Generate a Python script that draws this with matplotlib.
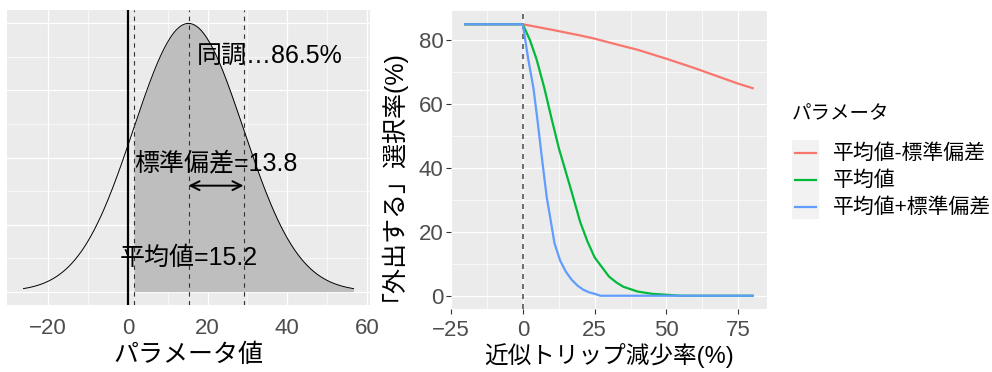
import numpy as np
import matplotlib
matplotlib.use("Agg")
import matplotlib.pyplot as plt
from matplotlib.lines import Line2D
from matplotlib.patches import Rectangle

plt.rcParams['font.family'] = ['Liberation Sans', 'Noto Sans CJK JP', 'DejaVu Sans']

# パラメータ分布
mu = 15.2
sd = 13.8
shade_from = mu - sd
share_pct = 86.5

# 近似トリップ減少率 vs 「外出する」選択率
red_x = [-20, 0, 10, 20, 25, 30, 40, 50, 60, 70, 75, 80]
red_y = [85, 85, 83.3, 81.5, 80.5, 79.3, 77.0, 74.2, 71.2, 68.0, 66.4, 65.0]
green_x = [-20, 0, 2.5, 4.8, 7.5, 10, 12.6, 14.4, 17, 20, 22.5, 25, 27.5, 30,
           32.5, 35, 40, 45, 50, 55, 80]
green_y = [85, 85, 80, 74, 65, 55.5, 46, 40.5, 32.5, 23, 17, 12, 9, 6,
           4.2, 2.8, 1.3, 0.6, 0.3, 0, 0]
blue_x = [-20, 0, 1.9, 3.7, 5.1, 6.8, 8.3, 10, 11, 13, 15, 17, 19, 21, 23, 25, 27, 80]
blue_y = [85, 85, 74, 65, 55, 42, 31, 22, 16.5, 11, 7.5, 5, 3.2, 1.9, 1.1, 0.6, 0, 0]

series = [("平均値-標準偏差", red_x, red_y, "#F8766D"),
          ("平均値", green_x, green_y, "#00BA38"),
          ("平均値+標準偏差", blue_x, blue_y, "#619CFF")]

PANEL = "#EBEBEB"
TICK = "#4D4D4D"


def gg_panel(ax):
    ax.set_facecolor(PANEL)
    for s in ax.spines.values():
        s.set_visible(False)
    ax.grid(True, which='major', color='white', linewidth=0.9)
    ax.grid(True, which='minor', color='white', linewidth=0.5)
    ax.set_axisbelow(True)


fig = plt.figure(figsize=(9.92, 3.72), dpi=100)

# ---- 左: 正規分布 ----
ax1 = fig.add_axes([7 / 992, 1 - 305 / 372, 363 / 992, 295 / 372])
gg_panel(ax1)
xs = np.linspace(mu - 3 * sd, mu + 3 * sd, 201)
dens = np.exp(-0.5 * ((xs - mu) / sd) ** 2) / (sd * np.sqrt(2 * np.pi))
peak = dens.max()
sel = xs >= shade_from
ax1.fill_between(xs[sel], 0, dens[sel], color="#BEBEBE", linewidth=0)
ax1.plot(xs, dens, color="black", linewidth=0.7)
ax1.axvline(0, color="black", linewidth=1.6)
for v in [mu - sd, mu, mu + sd]:
    ax1.axvline(v, color="#333333", linewidth=0.8, linestyle=(0, (4, 4)))
ax1.annotate("", xy=(mu, 0.395 * peak), xytext=(mu + sd, 0.395 * peak),
             arrowprops=dict(arrowstyle="<->", color="black", lw=1.4,
                             mutation_scale=16, shrinkA=0, shrinkB=0))
ax1.text(mu + 20.5, 0.88 * peak, f"同調…{share_pct}%", fontsize=18, ha="center", va="center")
ax1.text(mu + sd / 2, 0.48 * peak, f"標準偏差={sd}", fontsize=18, ha="center", va="center")
ax1.text(mu, 0.127 * peak, f"平均値={mu}", fontsize=18, ha="center", va="center")

rng = xs[-1] - xs[0]
ax1.set_xlim(xs[0] - 0.05 * rng, xs[-1] + 0.05 * rng)
ax1.set_ylim(-0.05 * peak, 1.05 * peak)
ax1.set_xticks([-20, 0, 20, 40, 60])
ax1.set_xticks([-10, 10, 30, 50], minor=True)
ax1.set_yticks(np.arange(0, 9, 2) * peak / 8)
ax1.set_yticks(np.arange(1, 9, 2) * peak / 8, minor=True)
ax1.tick_params(axis='both', which='both', length=0)
ax1.tick_params(axis='x', labelsize=16, labelcolor=TICK, pad=9)
ax1.set_yticklabels([])
ax1.set_xlabel("パラメータ値", fontsize=18, labelpad=3)

# ---- 右: 選択率 ----
ax2 = fig.add_axes([451 / 992, 1 - 309.3 / 372, 316 / 992, 298.6 / 372])
gg_panel(ax2)
ax2.axvline(0, color="#555555", linewidth=1.2, linestyle=(0, (3, 3)))
for name, x, y, c in series:
    ax2.plot(x, y, color=c, linewidth=1.6, label=name)
ax2.set_xlim(-25, 85)
ax2.set_ylim(-4.25, 89.25)
ax2.set_xticks([-25, 0, 25, 50, 75])
ax2.set_xticks([-12.5, 12.5, 37.5, 62.5], minor=True)
ax2.set_yticks([0, 20, 40, 60, 80])
ax2.set_yticks([10, 30, 50, 70], minor=True)
ax2.tick_params(axis='both', which='minor', length=0)
ax2.tick_params(axis='both', which='major', length=3.5, width=0.8, color="#333333",
                labelsize=16, labelcolor=TICK)
ax2.tick_params(axis='x', pad=4)
ax2.tick_params(axis='y', pad=2)
ax2.set_xlabel("近似トリップ減少率(%)", fontsize=17, labelpad=2)
ax2.set_ylabel("「外出する」選択率(%)", fontsize=18)
ax2.yaxis.set_label_coords(-0.185, 0.47)

# ---- 凡例 ----
fig.text(792 / 992, 1 - 115 / 372, "パラメータ", fontsize=14, va="center", ha="left")
fig.patches.append(Rectangle((792 / 992, 1 - 219 / 372), 27 / 992, 79 / 372,
                             transform=fig.transFigure, facecolor="#F2F2F2",
                             edgecolor="none", zorder=0))
for i, (name, x, y, c) in enumerate(series):
    yy = 1 - (153.3 + 26.7 * i) / 372
    fig.add_artist(Line2D([795 / 992, 816 / 992], [yy, yy], color=c, linewidth=1.6,
                          transform=fig.transFigure))
    fig.text(833 / 992, yy, name, fontsize=15, va="center", ha="left")

fig.savefig("out.png", dpi=100)
